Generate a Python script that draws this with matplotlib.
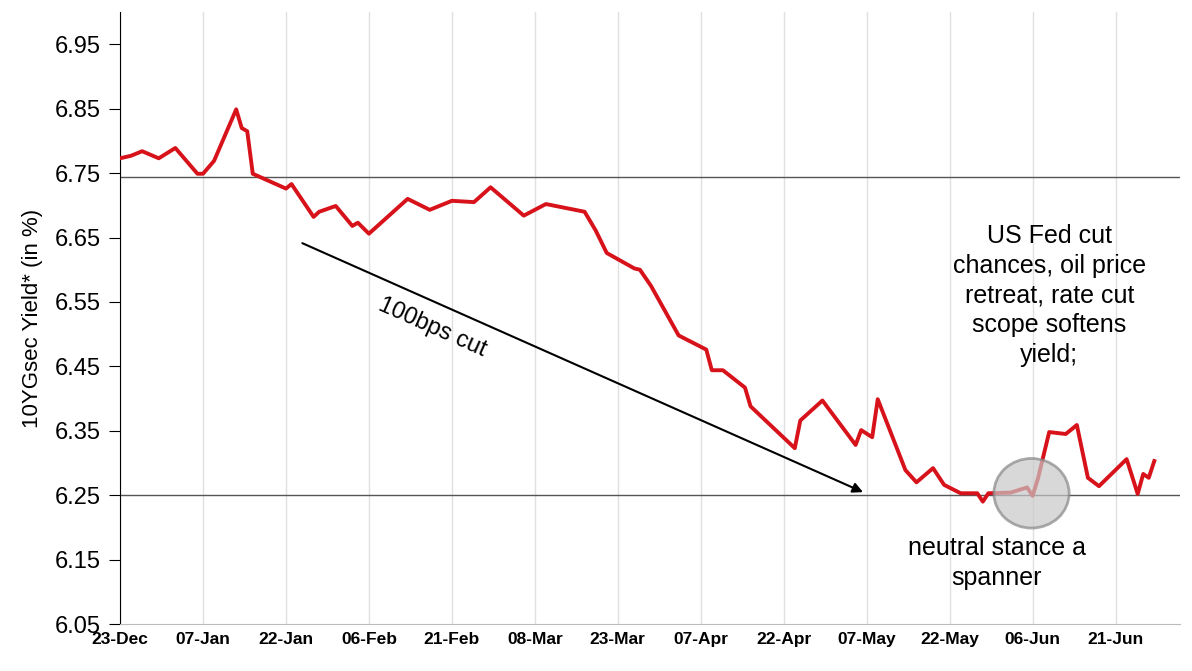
import matplotlib
matplotlib.use("Agg")
import matplotlib.pyplot as plt
import matplotlib.dates as mdates
from matplotlib.patches import Ellipse
import pandas as pd
import numpy as np

plt.rcParams['font.family'] = ['Liberation Sans', 'DejaVu Sans']

start = pd.Timestamp("2024-12-23")
day_offsets = [0,2,4,7,10,14,15,17,21,22,23,24,30,31,35,36,39,42,43,45,52,56,60,64,67,73,77,84,86,88,93,94,96,101,106,107,109,113,114,122,123,127,133,134,136,137,142,144,147,149,152,155,156,157,161,164,165,166,168,171,173,175,177,182,184,185,186,187]
yields = [6.773,6.777,6.784,6.773,6.789,6.749,6.749,6.769,6.849,6.82,6.815,6.749,6.726,6.733,6.682,6.69,6.699,6.668,6.673,6.656,6.71,6.693,6.707,6.705,6.728,6.684,6.702,6.69,6.661,6.626,6.602,6.6,6.575,6.498,6.476,6.444,6.444,6.417,6.388,6.323,6.366,6.397,6.328,6.351,6.34,6.399,6.289,6.27,6.292,6.266,6.253,6.253,6.24,6.253,6.254,6.262,6.249,6.277,6.348,6.345,6.359,6.277,6.264,6.306,6.252,6.283,6.277,6.303]
dates = [start + pd.Timedelta(days=d) for d in day_offsets]
tick_dates = pd.date_range(start, periods=13, freq="15D")
tick_labels = [d.strftime("%d-%b") for d in tick_dates]
yticks = [6.05,6.15,6.25,6.35,6.45,6.55,6.65,6.75,6.85,6.95]
ref_levels = [6.744, 6.25]

fig = plt.figure(figsize=(11.92,6.71), dpi=100)
ax = fig.add_axes([0.1007,0.070,0.889,0.912])
for tdt in tick_dates:
    ax.axvline(tdt, color="#e0e0e0", lw=1, zorder=0)
for lv in ref_levels:
    ax.axhline(lv, color="#555555", lw=1, zorder=1)
ax.plot(dates, yields, color="#d7121a", lw=2.8, zorder=3)

ax.set_xlim(start, start + pd.Timedelta(days=191.6))
ax.set_ylim(6.05, 7.0)
ax.set_xticks(tick_dates)
ax.set_xticklabels(tick_labels, fontsize=12.5, fontweight="bold")
ax.set_yticks(yticks)
ax.set_yticklabels([f"{v:.2f}" for v in yticks], fontsize=17)
ax.tick_params(axis="y", direction="out", length=8, pad=6)
ax.tick_params(axis="x", length=0, pad=6)
ax.spines["top"].set_visible(False)
ax.spines["right"].set_visible(False)
ax.spines["bottom"].set_color("#bbbbbb")
ax.set_ylabel("10YGsec Yield* (in %)", fontsize=16, labelpad=8)

a0 = start + pd.Timedelta(days=32.5)
a1 = start + pd.Timedelta(days=134.8)
ax.annotate("", xy=(a1, 6.253), xytext=(a0, 6.643),
            arrowprops=dict(arrowstyle="-|>", color="black", lw=1.5, mutation_scale=15), zorder=4)
ax.text(start + pd.Timedelta(days=56.5), 6.51, "100bps cut", fontsize=17, rotation=-24,
        ha="center", va="center")

ell = Ellipse((mdates.date2num(start + pd.Timedelta(days=164.8)), 6.253), 13.6, 0.108,
              facecolor="#c8c8c8", edgecolor="#888888", lw=2, alpha=0.7, zorder=5)
ax.add_patch(ell)
ax.text(start + pd.Timedelta(days=158.5), 6.145, "neutral stance a\nspanner", fontsize=18,
        ha="center", va="center", linespacing=1.3)
ax.text(start + pd.Timedelta(days=168), 6.56, "US Fed cut\nchances, oil price\nretreat, rate cut\nscope softens\nyield;",
        fontsize=18, ha="center", va="center", linespacing=1.3)

fig.savefig("out.png", dpi=100)
